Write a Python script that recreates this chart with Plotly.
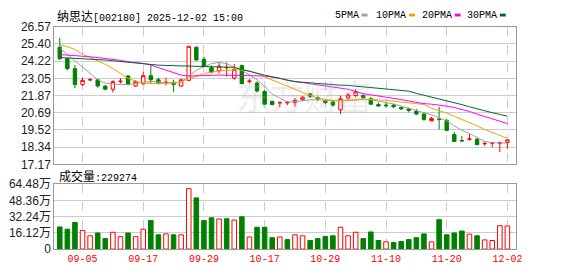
import plotly.graph_objects as go

W, H = 578, 276

dates = ["09-02","09-03","09-04","09-05","09-08","09-09","09-10","09-11","09-12","09-15",
         "09-16","09-17","09-18","09-19","09-22","09-23","09-24","09-25","09-26","09-29",
         "09-30","10-09","10-10","10-13","10-14","10-15","10-16","10-17","10-20","10-21",
         "10-22","10-23","10-24","10-27","10-28","10-29","10-30","10-31","11-03","11-04",
         "11-05","11-06","11-07","11-10","11-11","11-12","11-13","11-14","11-17","11-18",
         "11-19","11-20","11-21","11-24","11-25","11-26","11-27","11-28","12-01","12-02"]

opens = [25.18,24.40,23.71,22.63,22.94,22.95,22.52,22.30,22.82,23.21,
         22.52,22.67,23.23,22.95,22.75,22.78,22.52,22.91,25.18,24.36,
         23.77,23.56,23.77,23.06,23.92,22.84,22.73,22.15,21.48,21.36,
         21.37,21.39,21.59,21.98,21.72,21.52,21.43,20.89,21.70,21.87,
         21.87,21.65,21.26,21.22,21.22,21.05,20.96,20.79,20.61,20.14,
         20.26,20.18,19.21,18.78,18.88,18.88,18.57,18.62,18.62,18.66]
highs = [25.81,24.47,23.97,23.10,23.06,22.99,22.56,22.91,23.06,23.28,
         22.91,23.49,23.92,23.10,23.10,22.95,22.99,25.24,25.22,24.53,
         23.92,24.14,24.14,24.03,23.99,23.00,22.84,22.24,21.50,21.48,
         21.50,21.70,21.83,22.04,21.83,21.61,21.50,21.87,22.04,22.30,
         21.98,21.76,21.39,21.43,21.30,21.10,21.05,20.96,20.74,20.40,
         21.11,20.24,19.38,19.10,19.27,18.99,18.73,18.66,18.73,18.84]
lows = [24.29,23.60,22.37,22.52,22.85,22.41,22.30,22.08,22.69,22.56,
        22.47,22.63,22.69,22.63,22.56,22.13,22.45,22.89,24.25,23.82,
        23.38,23.38,23.17,22.95,22.63,22.69,22.08,21.26,21.20,21.07,
        21.22,21.11,21.48,21.70,21.50,21.28,21.11,20.61,21.54,21.76,
        21.65,21.26,21.15,21.05,21.02,20.90,20.72,20.53,20.14,20.14,
        19.55,19.44,18.73,18.77,18.79,18.51,18.45,18.34,18.01,18.23]
closes = [24.40,23.71,22.63,22.91,22.96,22.52,22.30,22.82,22.85,22.63,
          22.84,23.23,22.95,22.69,22.78,22.63,22.95,25.24,24.31,23.86,
          23.49,23.88,23.79,23.66,22.69,22.86,22.19,21.28,21.26,21.38,
          21.39,21.54,21.76,21.83,21.63,21.39,21.22,21.65,21.91,22.13,
          21.72,21.28,21.15,21.18,21.11,20.96,20.85,20.61,20.24,20.31,
          20.24,19.49,18.73,18.77,18.90,18.51,18.59,18.63,18.63,18.84]
# candles drawn with a solid red body
solid_up = [49]

ma5 = [25.11,24.70,24.25,23.82,23.40,22.95,22.72,22.65,22.62,22.63,
       22.70,22.80,22.84,22.80,22.73,22.75,22.78,23.20,23.60,23.85,
       24.05,24.14,24.05,23.82,23.60,23.30,22.95,22.50,21.98,21.70,
       21.43,21.45,21.54,21.58,21.58,21.54,21.50,21.50,21.54,21.60,
       21.62,21.58,21.50,21.43,21.30,21.15,21.00,20.88,20.74,20.55,
       20.35,20.14,19.80,19.50,19.27,19.00,18.73,18.65,18.62,18.62]
ma10 = [25.33,25.22,25.02,24.70,24.48,24.25,24.00,23.72,23.40,23.05,
        22.85,22.73,22.70,22.69,22.70,22.73,22.78,23.05,23.17,23.38,
        23.48,23.55,23.60,23.63,23.64,23.55,23.38,23.15,22.95,22.72,
        22.52,22.30,22.08,21.88,21.70,21.60,21.54,21.54,21.54,21.58,
        21.62,21.62,21.58,21.54,21.48,21.42,21.38,21.32,21.26,21.00,
        20.85,20.68,20.45,20.25,20.03,19.80,19.55,19.35,19.15,18.95]
ma20 = [24.68,24.65,24.60,24.57,24.52,24.47,24.42,24.35,24.28,24.18,
        24.12,24.07,23.95,23.78,23.60,23.42,23.27,23.21,23.21,23.22,
        23.25,23.27,23.27,23.27,23.27,23.25,23.22,23.20,23.12,23.06,
        22.91,22.83,22.75,22.67,22.60,22.52,22.45,22.38,22.30,22.15,
        22.00,21.92,21.85,21.78,21.68,21.60,21.50,21.40,21.32,21.28,
        21.24,21.15,21.05,20.93,20.78,20.60,20.45,20.32,20.12,19.95]
ma30 = [24.47,24.45,24.42,24.40,24.38,24.35,24.30,24.25,24.20,24.12,
        24.07,24.03,24.00,23.95,23.93,23.92,23.90,23.88,23.87,23.87,
        23.87,23.86,23.85,23.80,23.65,23.50,23.40,23.27,23.15,23.05,
        22.95,22.82,22.78,22.73,22.68,22.63,22.60,22.58,22.56,22.52,
        22.47,22.42,22.37,22.32,22.27,22.22,22.17,22.02,21.90,21.78,
        21.65,21.54,21.40,21.25,21.10,20.95,20.80,20.70,20.58,20.46]

# volume in 万 (10k shares)
volumes = [22.0,19.8,26.4,18.6,13.2,16.0,10.4,16.7,12.3,16.0,
           12.3,19.8,28.3,14.2,15.1,14.2,14.2,60.1,50.9,28.3,
           31.1,29.9,30.2,28.9,32.1,12.0,21.7,21.7,11.3,12.0,
           9.4,14.2,13.2,8.5,10.4,12.6,13.2,21.7,13.2,16.7,
           10.4,17.0,8.5,7.2,6.6,7.5,9.4,11.3,15.1,7.2,
           29.2,14.2,16.0,17.9,14.8,13.2,9.1,8.5,23.3,22.93]
vol_up = [0,0,0,1,1,0,0,1,1,0, 1,1,0,0,1,0,1,1,0,0,
          0,1,0,1,0,1,0,0,0,1, 0,1,1,0,0,0,0,1,1,1,
          0,0,0,1,0,0,0,0,0,1, 0,0,0,0,1,0,1,1,1,1]

price_ticks = [17.17,18.34,19.52,20.69,21.87,23.05,24.22,25.40,26.57]
vol_ticks = [0,16.12,32.24,48.36,64.48]
vol_ticktext = ["0","16.12万","32.24万","48.36万","64.48万"]
date_tick_idx = [3,11,19,27,35,43,51,59]
last_volume = "229274"
title_name = "纳思达"
title_rest = "[002180] 2025-12-02 15:00"
ma_names = ["5PMA","10PMA","20PMA","30PMA"]

RED = "#ff0000"
GREEN = "#008000"
MA_COLORS = ["#a0a0a0", "#f5a000", "#ff00ff", "#006633"]

def px(x): return x / W
def py(y): return 1 - y / H

idx = list(range(len(dates)))
normal = [i for i in idx if i not in solid_up]

fig = go.Figure()

fig.add_trace(go.Candlestick(
    x=normal, open=[opens[i] for i in normal], high=[highs[i] for i in normal],
    low=[lows[i] for i in normal], close=[closes[i] for i in normal],
    increasing=dict(line=dict(color=RED, width=1), fillcolor="#ffffff"),
    decreasing=dict(line=dict(color=GREEN, width=1), fillcolor=GREEN),
    whiskerwidth=0, showlegend=False, hoverinfo="skip", xaxis="x", yaxis="y"))
fig.add_trace(go.Candlestick(
    x=solid_up, open=[opens[i] for i in solid_up], high=[highs[i] for i in solid_up],
    low=[lows[i] for i in solid_up], close=[closes[i] for i in solid_up],
    increasing=dict(line=dict(color=RED, width=1), fillcolor=RED),
    decreasing=dict(line=dict(color=GREEN, width=1), fillcolor=GREEN),
    whiskerwidth=0, showlegend=False, hoverinfo="skip", xaxis="x", yaxis="y"))

for ma, col in zip([ma5, ma10, ma20, ma30], MA_COLORS):
    fig.add_trace(go.Scatter(x=idx, y=ma, mode="lines", line=dict(color=col, width=1),
                             showlegend=False, hoverinfo="skip", xaxis="x", yaxis="y"))

fig.add_trace(go.Bar(
    x=idx, y=volumes, width=0.6,
    marker=dict(color=["#ffffff" if u else GREEN for u in vol_up],
                line=dict(color=[RED if u else GREEN for u in vol_up], width=1)),
    showlegend=False, hoverinfo="skip", xaxis="x2", yaxis="y2"))

xdom = [px(55), px(522)]
xr = [-0.716, 60.09]
common_x = dict(domain=xdom, range=xr, tickvals=date_tick_idx, showgrid=True,
                gridcolor="#cccccc", griddash="dash", gridwidth=1, showline=True,
                mirror=True, linecolor="#999999", linewidth=1, zeroline=False,
                ticks="", fixedrange=True)
fig.update_layout(
    width=W, height=H, margin=dict(l=0, r=0, t=0, b=0),
    paper_bgcolor="white", plot_bgcolor="rgba(0,0,0,0)",
    boxgap=0.36,
    xaxis=dict(**common_x, anchor="y", showticklabels=False, rangeslider=dict(visible=False)),
    yaxis=dict(domain=[py(165.7), py(20.9)], range=[price_ticks[0], price_ticks[-1]],
               tickvals=price_ticks, ticktext=[f"{v:.2f}" for v in price_ticks],
               showgrid=True, gridcolor="#cccccc", gridwidth=1, showline=True, mirror=True,
               linecolor="#999999", linewidth=1, zeroline=False, ticks="",
               tickfont=dict(family="Liberation Sans, Arial", size=12, color="#222222")),
    xaxis2=dict(**common_x, anchor="y2", showticklabels=True,
                ticktext=[dates[i] for i in date_tick_idx],
                tickfont=dict(family="Liberation Mono, monospace", size=10, color=RED)),
    yaxis2=dict(domain=[py(255), py(186.7)], range=[vol_ticks[0], vol_ticks[-1]],
                tickvals=vol_ticks, ticktext=vol_ticktext,
                showgrid=True, gridcolor="#cccccc", gridwidth=1, showline=True, mirror=True,
                linecolor="#999999", linewidth=1, zeroline=False, ticks="",
                tickfont=dict(family="Liberation Sans, Noto Sans CJK SC", size=12, color="#222222")),
    bargap=0.3,
)

annotations = []
# watermark
annotations.append(dict(x=px(308), y=py(93), xref="paper", yref="paper", text="东方财富",
                        showarrow=False, xanchor="center", yanchor="middle",
                        font=dict(family="Noto Sans CJK SC", size=34, color="rgba(170,170,170,0.22)")))
annotations.append(dict(
    x=px(56), y=py(8.5), xref="paper", yref="paper", showarrow=False,
    xanchor="left", yanchor="middle",
    text=f'<span style="font-family:Noto Sans CJK SC;font-size:12px">{title_name}</span>{title_rest}',
    font=dict(family="Liberation Mono, monospace", size=10, color="#000000")))
annotations.append(dict(
    x=px(58), y=py(177.5), xref="paper", yref="paper", showarrow=False,
    xanchor="left", yanchor="middle",
    text=f'<span style="font-family:Noto Sans CJK SC;font-size:12px">成交量</span>:{last_volume}',
    font=dict(family="Liberation Mono, monospace", size=10, color="#000000")))

legend_text_x = [337, 379, 424.7, 470.7]
legend_sq_x = [366, 414, 460.3, 506]
shapes = []
for name, tx, sx, col in zip(ma_names, legend_text_x, legend_sq_x, MA_COLORS):
    annotations.append(dict(x=px(tx), y=py(8.5), xref="paper", yref="paper", showarrow=False,
                            xanchor="left", yanchor="middle", text=name,
                            font=dict(family="Liberation Mono, monospace", size=10, color="#000000")))
    shapes.append(dict(type="rect", xref="paper", yref="paper", x0=px(sx), x1=px(sx + 6),
                       y0=py(10), y1=py(7), fillcolor=col, line=dict(width=0)))

fig.update_layout(annotations=annotations, shapes=shapes)
fig.write_html("out.html")
